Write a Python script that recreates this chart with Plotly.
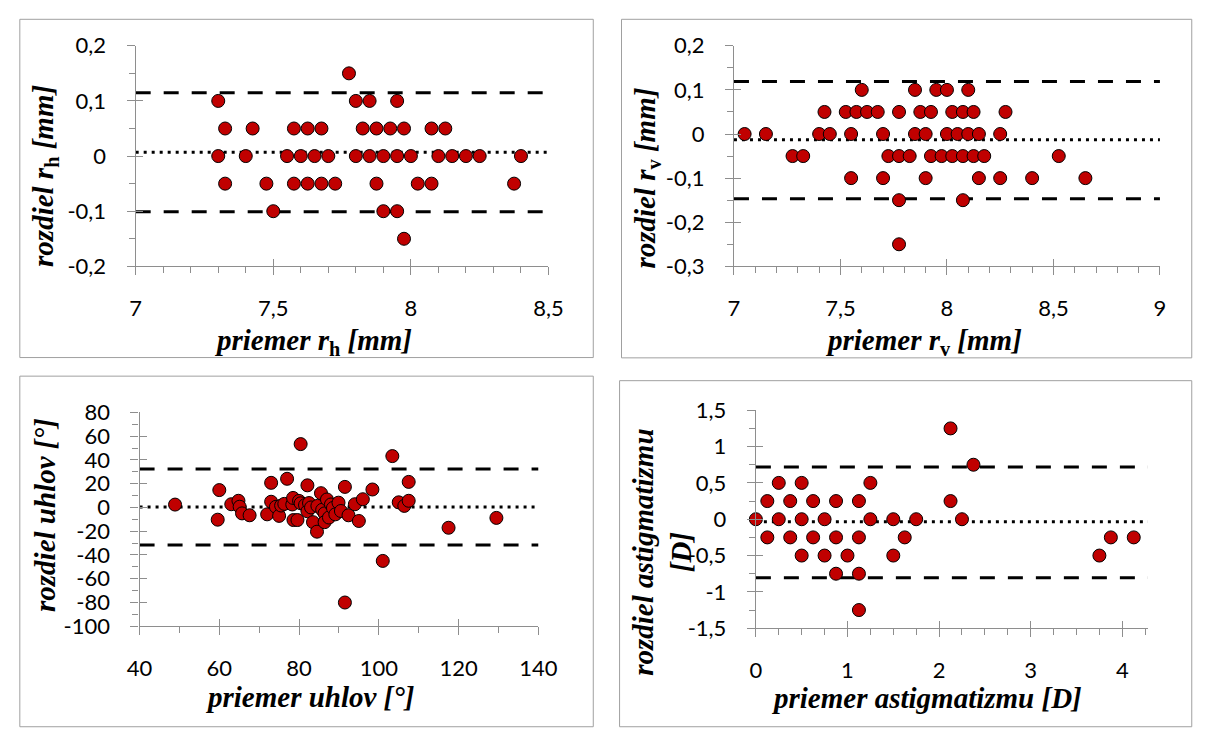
import numpy as np
import plotly.graph_objects as go

# ---------------- data ----------------
# Panel 1: r_h  (mean of two measurements vs difference)
rh_mean = [7.775,
           7.3, 7.8, 7.85, 7.95,
           7.325, 7.425, 7.575, 7.625, 7.675, 7.825, 7.875, 7.925, 7.975, 8.075, 8.125,
           7.3, 7.4, 7.55, 7.6, 7.65, 7.7, 7.8, 7.85, 7.9, 7.95, 8.0, 8.1, 8.15, 8.2, 8.25, 8.4,
           7.325, 7.475, 7.575, 7.625, 7.675, 7.725, 7.875, 8.025, 8.075, 8.375,
           7.5, 7.9, 7.95,
           7.975]
rh_diff = [0.15,
           0.1, 0.1, 0.1, 0.1,
           0.05, 0.05, 0.05, 0.05, 0.05, 0.05, 0.05, 0.05, 0.05, 0.05, 0.05,
           0, 0, 0, 0, 0, 0, 0, 0, 0, 0, 0, 0, 0, 0, 0, 0,
           -0.05, -0.05, -0.05, -0.05, -0.05, -0.05, -0.05, -0.05, -0.05, -0.05,
           -0.1, -0.1, -0.1,
           -0.15]
rh_bias = 0.007
rh_loa = [-0.101, 0.115]

# Panel 2: r_v
rv_mean = [7.6, 7.85, 7.95, 8.0, 8.1,
           7.425, 7.525, 7.575, 7.625, 7.675, 7.775, 7.875, 7.925, 8.025, 8.075, 8.125, 8.275,
           7.05, 7.15, 7.4, 7.45, 7.55, 7.7, 7.85, 7.9, 8.0, 8.05, 8.1, 8.15, 8.25,
           7.275, 7.325, 7.725, 7.775, 7.825, 7.925, 7.975, 8.025, 8.075, 8.125, 8.175, 8.525,
           7.55, 7.7, 7.9, 8.15, 8.25, 8.4, 8.65,
           7.775, 8.075,
           7.775]
rv_diff = [0.1, 0.1, 0.1, 0.1, 0.1,
           0.05, 0.05, 0.05, 0.05, 0.05, 0.05, 0.05, 0.05, 0.05, 0.05, 0.05, 0.05,
           0, 0, 0, 0, 0, 0, 0, 0, 0, 0, 0, 0, 0,
           -0.05, -0.05, -0.05, -0.05, -0.05, -0.05, -0.05, -0.05, -0.05, -0.05, -0.05, -0.05,
           -0.1, -0.1, -0.1, -0.1, -0.1, -0.1, -0.1,
           -0.15, -0.15,
           -0.25]
rv_bias = -0.013
rv_loa = [-0.147, 0.119]

# Panel 3: axis angle (uhol)
uh_mean = [48.9, 60.0, 59.6, 63.0, 64.8, 65.1, 65.7, 67.6, 72.0, 73.0, 73.0, 74.2,
           75.0, 75.5, 76.3, 77.0, 78.3, 78.5, 78.6, 79.6, 80.0, 80.4, 80.4, 81.5,
           82.1, 82.1, 82.5, 83.0, 83.5, 84.5, 84.6, 85.5, 85.8, 86.4, 86.4, 87.0,
           87.5, 88.0, 88.5, 89.1, 89.9, 90.5, 91.5, 91.5, 92.4, 94.0, 95.0, 96.0,
           98.4, 101.0, 103.4, 105.0, 106.4, 107.5, 107.5, 117.5, 129.5]
uh_diff = [2.4, 14.6, -10.3, 2.7, 5.6, 0.6, -5.0, -6.6, -5.8, 20.7, 4.8, 0.5,
           -7.1, 1.6, 3.0, 24.1, 2.5, 8.0, -10.6, -10.6, 5.5, 53.3, 3.5, 2.0,
           18.6, -3.2, 3.7, 0.0, -12.4, -20.4, 1.3, 12.0, -2.0, -5.0, -12.4, 6.7,
           -8.5, 2.5, -0.5, -5.8, 4.0, -3.0, 17.3, -80.0, -6.6, 2.7, -11.4, 6.9,
           15.1, -45.0, 43.2, 4.3, 1.3, 21.5, 5.6, -17.1, -8.8]
uh_bias = 0.4
uh_loa = [-31.5, 32.3]

# Panel 4: astigmatism
as_mean = [2.125,
           2.375,
           0.25, 0.5, 1.25,
           0.125, 0.375, 0.625, 0.875, 1.125, 2.125,
           0.0, 0.25, 0.5, 0.75, 1.25, 1.5, 1.75, 2.25,
           0.125, 0.375, 0.625, 0.875, 1.125, 1.625, 3.875, 4.125,
           0.5, 0.75, 1.0, 1.5, 3.75,
           0.875, 1.125,
           1.125]
as_diff = [1.25,
           0.75,
           0.5, 0.5, 0.5,
           0.25, 0.25, 0.25, 0.25, 0.25, 0.25,
           0, 0, 0, 0, 0, 0, 0, 0,
           -0.25, -0.25, -0.25, -0.25, -0.25, -0.25, -0.25, -0.25,
           -0.5, -0.5, -0.5, -0.5, -0.5,
           -0.75, -0.75,
           -1.25]
as_bias = -0.035
as_loa = [-0.805, 0.718]

# tick labels
rh_xticks = [7, 7.5, 8, 8.5]
rh_xlabels = ["7", "7,5", "8", "8,5"]
rh_yticks = [-0.2, -0.1, 0, 0.1, 0.2]
rh_ylabels = ["-0,2", "-0,1", "0", "0,1", "0,2"]
rv_xticks = [7, 7.5, 8, 8.5, 9]
rv_xlabels = ["7", "7,5", "8", "8,5", "9"]
rv_yticks = [-0.3, -0.2, -0.1, 0, 0.1, 0.2]
rv_ylabels = ["-0,3", "-0,2", "-0,1", "0", "0,1", "0,2"]
uh_xticks = [40, 60, 80, 100, 120, 140]
uh_xlabels = ["40", "60", "80", "100", "120", "140"]
uh_yticks = [-100, -80, -60, -40, -20, 0, 20, 40, 60, 80]
uh_ylabels = ["-100", "-80", "-60", "-40", "-20", "0", "20", "40", "60", "80"]
as_xticks = [0, 1, 2, 3, 4]
as_xlabels = ["0", "1", "2", "3", "4"]
as_yticks = [-1.5, -1, -0.5, 0, 0.5, 1, 1.5]
as_ylabels = ["-1,5", "-1", "-0,5", "0", "0,5", "1", "1,5"]

# ---------------- layout helpers ----------------
W, H = 1213, 733
def fx(p):
    return p / W
def fy(p):
    return (H - p) / H

GRAY = "#8E8E8E"
BORDER = "#A0A0A0"
RED = "#C00000"
TICKFONT = dict(family="Lato", size=22, color="black")
TITLEFONT = dict(family="Liberation Serif", size=29, color="black")

panels = [
    dict(mx=rh_mean, dy=rh_diff, bias=rh_bias, loa=rh_loa,
         xd=(126, 550), yd=(33, 262), xr=[7, 8.5], yr=[-0.2, 0.2],
         xt=rh_xticks, xl=rh_xlabels, yt=rh_yticks, yl=rh_ylabels, xm=0.1, ym=0.05,
         xtitle="<b><i>priemer r</i><sub>h</sub><i> [mm]</i></b>", xtp=(308, 341),
         ytitle="<b><i>rozdiel r</i><sub>h</sub><i> [mm]</i></b>", ytp=(33, 168),
         box=(7, 5.5, 596, 356.7)),
    dict(mx=rv_mean, dy=rv_diff, bias=rv_bias, loa=rv_loa,
         xd=(740.5, 1178), yd=(33, 262), xr=[7, 9], yr=[-0.3, 0.2],
         xt=rv_xticks, xl=rv_xlabels, yt=rv_yticks, yl=rv_ylabels, xm=0.1, ym=0.05,
         xtitle="<b><i>priemer r</i><sub>v</sub><i> [mm]</i></b>", xtp=(935, 341),
         ytitle="<b><i>rozdiel r</i><sub>v</sub><i> [mm]</i></b>", ytp=(651, 170),
         box=(625, 5.5, 1210.7, 357)),
    dict(mx=uh_mean, dy=uh_diff, bias=uh_bias, loa=uh_loa,
         xd=(130, 539.5), yd=(413.6, 635.7), xr=[40, 140], yr=[-100, 80],
         xt=uh_xticks, xl=uh_xlabels, yt=uh_yticks, yl=uh_ylabels, xm=10, ym=10,
         xtitle="<b><i>priemer uhlov [°]</i></b>", xtp=(305, 709),
         ytitle="<b><i>rozdiel uhlov [°]</i></b>", ytp=(33, 520),
         box=(7, 376, 596, 740)),
    dict(mx=as_mean, dy=as_diff, bias=as_bias, loa=as_loa,
         xd=(763, 1165.7), yd=(411.4, 637.7), xr=[0, 4.28], yr=[-1.5, 1.5],
         xt=as_xticks, xl=as_xlabels, yt=as_yticks, yl=as_ylabels, xm=0.25, ym=0.25,
         xtitle="<b><i>priemer astigmatizmu [D]</i></b>", xtp=(938, 710),
         ytitle="<b><i>rozdiel astigmatizmu<br>[D]</i></b>", ytp=(667, 559),
         box=(623, 380.7, 1210.7, 740)),
]

fig = go.Figure()
layout = dict(width=W, height=H, margin=dict(l=0, r=0, t=0, b=0),
              paper_bgcolor="white", plot_bgcolor="white", showlegend=False)
shapes = []
annotations = []

for i, p in enumerate(panels, start=1):
    sx = "" if i == 1 else str(i)
    ox = str(i + 4)
    xref, yref = "x" + sx, "y" + sx

    fig.add_trace(go.Scatter(
        x=p["mx"], y=p["dy"], mode="markers", xaxis=xref, yaxis=yref,
        cliponaxis=False, hoverinfo="skip",
        marker=dict(size=13, color=RED, line=dict(color="black", width=1))))
    # empty trace on overlay axes (inner half of the crossing major ticks)
    fig.add_trace(go.Scatter(x=[], y=[], xaxis="x" + ox, yaxis="y" + ox, hoverinfo="skip"))

    x0, x1 = p["xr"]
    y0, y1 = p["yr"]
    xminor = list(np.round(np.arange(x0, x1 + 1e-9, p["xm"]), 6))
    yminor = list(np.round(np.arange(y0, y1 + 1e-9, p["ym"]), 6))

    common = dict(showgrid=False, zeroline=False, showline=True, linecolor=GRAY,
                  linewidth=1.3, ticks="outside", ticklen=8, tickwidth=1.3,
                  tickcolor=GRAY, tickfont=TICKFONT, tickmode="array")
    layout["xaxis" + sx] = dict(common, domain=[fx(p["xd"][0]), fx(p["xd"][1])],
                                range=p["xr"], tickvals=p["xt"], ticktext=p["xl"],
                                anchor=yref, ticklabelstandoff=14,
                                minor=dict(tickmode="array", tickvals=xminor, ticks="outside",
                                           ticklen=6, tickwidth=1.3, tickcolor=GRAY))
    layout["yaxis" + sx] = dict(common, domain=[fy(p["yd"][1]), fy(p["yd"][0])],
                                range=p["yr"], tickvals=p["yt"], ticktext=p["yl"],
                                anchor=xref, ticklabelstandoff=16,
                                minor=dict(tickmode="array", tickvals=yminor, ticks="outside",
                                           ticklen=6, tickwidth=1.3, tickcolor=GRAY))
    inner = dict(showgrid=False, zeroline=False, showline=False, showticklabels=False,
                 ticks="inside", ticklen=7, tickwidth=1.3, tickcolor=GRAY, tickmode="array")
    layout["xaxis" + ox] = dict(inner, overlaying=xref, anchor="y" + ox,
                                range=p["xr"], tickvals=p["xt"])
    layout["yaxis" + ox] = dict(inner, overlaying=yref, anchor="x" + ox,
                                range=p["yr"], tickvals=p["yt"])

    # reference lines: bias (dotted) and limits of agreement (dashed)
    shapes.append(dict(type="line", xref=xref + " domain", yref=yref, x0=0, x1=1,
                       y0=p["bias"], y1=p["bias"], layer="below",
                       line=dict(color="black", width=3, dash="3px,5px")))
    for v in p["loa"]:
        shapes.append(dict(type="line", xref=xref + " domain", yref=yref, x0=0, x1=1,
                           y0=v, y1=v, layer="below",
                           line=dict(color="black", width=3, dash="15px,13px")))
    # chart-area border
    bx0, by0, bx1, by1 = p["box"]
    shapes.append(dict(type="rect", xref="paper", yref="paper",
                       x0=fx(bx0), x1=fx(bx1), y0=fy(by1), y1=fy(by0),
                       line=dict(color=BORDER, width=1), fillcolor="rgba(0,0,0,0)"))
    # titles
    annotations.append(dict(text=p["xtitle"], xref="paper", yref="paper",
                            x=fx(p["xtp"][0]), y=fy(p["xtp"][1]), xanchor="center",
                            yanchor="middle", showarrow=False, font=TITLEFONT))
    annotations.append(dict(text=p["ytitle"], xref="paper", yref="paper",
                            x=fx(p["ytp"][0]), y=fy(p["ytp"][1]), xanchor="center",
                            yanchor="middle", showarrow=False, font=TITLEFONT,
                            textangle=-90))

layout["shapes"] = shapes
layout["annotations"] = annotations
fig.update_layout(**layout)
fig.write_html("out.html")
